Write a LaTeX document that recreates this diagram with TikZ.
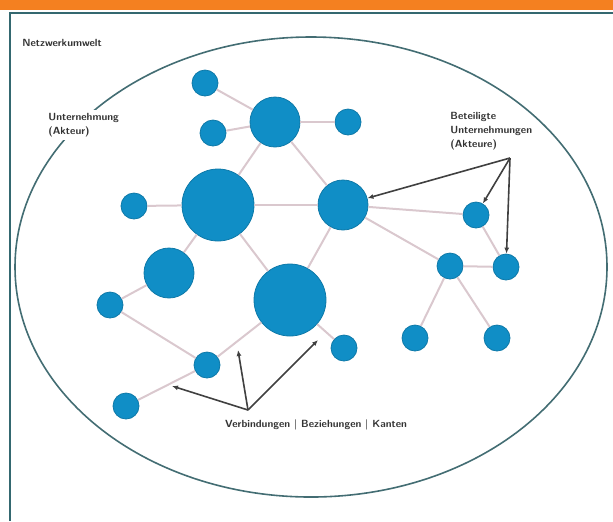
\documentclass[tikz,border=0pt]{standalone}
\usepackage{tikz}
\usetikzlibrary{arrows.meta}
\definecolor{netzblau}{RGB}{16,142,198}
\definecolor{kante}{RGB}{218,200,206}
\definecolor{rahmen}{RGB}{52,104,112}
\definecolor{balken}{RGB}{244,128,32}
\newcommand{\kleinradius}{13pt}
\newcommand{\mittelradius}{25pt}
\newcommand{\grossradius}{36pt}
\tikzset{akteur/.style={circle, draw=netzblau!85!black, fill=netzblau, inner sep=0pt, minimum width=\kleinradius}}
\tikzset{bez/.style={draw=kante, line width=1pt}}
\tikzset{hinweis/.style={draw=black!75, line width=0.8pt, -{Latex[length=3pt,width=2.5pt]}}}
\tikzset{beschr/.style={font=\sffamily\bfseries\fontsize{5.2}{6.9}\selectfont, text=black!80, align=left, inner sep=0pt}}

\begin{document}
\begin{tikzpicture}[x=0.5pt,y=-0.5pt]
\useasboundingbox (0,0) rectangle (613,521);

\fill[balken] (0,0) rectangle (613,10);
\draw[rahmen, line width=1.2pt] (10,521) -- (10,13) -- (613,13);

\node[beschr, anchor=west] (titel) at (22,43) {Netzwerkumwelt};

\draw[rahmen!80!gray, line width=0.8pt] (311,267) ellipse (296 and 230);

\node[akteur] (1) at (205,83) {};
\node[akteur] (2) at (213,133) {};
\node[akteur, minimum width=\mittelradius] (3) at (275,122) {};
\node[akteur] (4) at (348,122) {};
\node[akteur, minimum width=\grossradius] (5) at (218,205) {};
\node[akteur, minimum width=\mittelradius] (6) at (343,205) {};
\node[akteur] (7) at (134,206) {};
\node[akteur, minimum width=\mittelradius] (8) at (169,273) {};
\node[akteur, minimum width=\grossradius] (9) at (290,300) {};
\node[akteur] (10) at (476,215) {};
\node[akteur] (11) at (450,266) {};
\node[akteur] (12) at (506,267) {};
\node[akteur] (13) at (110,305) {};
\node[akteur] (14) at (207,365) {};
\node[akteur] (15) at (344,348) {};
\node[akteur] (16) at (415,338) {};
\node[akteur] (17) at (497,338) {};
\node[akteur] (18) at (126,406) {};

\draw[bez] (1) -- (3);
\draw[bez] (2) -- (3);
\draw[bez] (3) -- (4);
\draw[bez] (3) -- (5);
\draw[bez] (3) -- (6);
\draw[bez] (5) -- (7);
\draw[bez] (5) -- (6);
\draw[bez] (5) -- (8);
\draw[bez] (5) -- (9);
\draw[bez] (6) -- (9);
\draw[bez] (6) -- (10);
\draw[bez] (6) -- (11);
\draw[bez] (10) -- (12);
\draw[bez] (11) -- (12);
\draw[bez] (11) -- (16);
\draw[bez] (11) -- (17);
\draw[bez] (8) -- (13);
\draw[bez] (13) -- (14);
\draw[bez] (14) -- (9);
\draw[bez] (18) -- (14);
\draw[bez] (9) -- (15);

\node[beschr, anchor=north west, fill=white, inner sep=1.5pt] (links) at (45,110) {Unternehmung\\(Akteur)};
\node[beschr, anchor=north west] (rechts) at (450,112) {Beteiligte\\Unternehmungen\\(Akteure)};
\node[beschr, anchor=north] (unten) at (316,419) {Verbindungen \textbar{} Beziehungen \textbar{} Kanten};

\coordinate (r) at (510,158);
\draw[hinweis] (r) -- (6);
\draw[hinweis] (r) -- (10);
\draw[hinweis] (r) -- (12);

\coordinate (u) at (248,410);
\coordinate (e1) at (172,386);
\coordinate (e2) at (238,350);
\coordinate (e3) at (318,340);
\draw[hinweis] (u) -- (e1);
\draw[hinweis] (u) -- (e2);
\draw[hinweis] (u) -- (e3);
\end{tikzpicture}
\end{document}
